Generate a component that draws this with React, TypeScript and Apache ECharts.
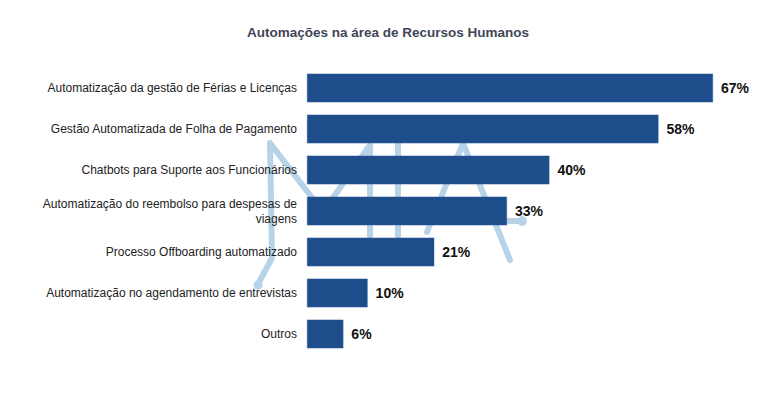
import React, { useEffect, useRef } from "react";
import * as echarts from "echarts";

const categories = [
  "Automatização da gestão de Férias e Licenças",
  "Gestão Automatizada de Folha de Pagamento",
  "Chatbots para Suporte aos Funcionários",
  "Automatização do reembolso para despesas de\nviagens",
  "Processo Offboarding automatizado",
  "Automatização no agendamento de entrevistas",
  "Outros",
];
const values = [67, 58, 40, 33, 21, 10, 6];
const titleText = "Automações na área de Recursos Humanos";

const wmColor = "#b6d3e8";
const wmStyle = { stroke: wmColor, lineWidth: 6, lineCap: "round", lineJoin: "round", fill: null };

export default function App() {
  const ref = useRef<HTMLDivElement>(null);
  useEffect(() => {
    if (!ref.current) return;
    const chart = echarts.init(ref.current, null, { renderer: "svg" });
    chart.setOption({
      animation: false,
      backgroundColor: "#ffffff",
      title: {
        text: titleText,
        left: "center",
        top: 20,
        textStyle: { fontFamily: "Liberation Sans, Arial, sans-serif", fontSize: 13.5, fontWeight: "bold", color: "#3f4656" },
      },
      graphic: [
        { type: "polyline", z: 0, shape: { points: [[258, 284], [272, 258], [270, 143], [323, 212], [370, 145], [370, 236]] }, style: wmStyle },
        { type: "line", z: 0, shape: { x1: 398, y1: 143, x2: 398, y2: 236 }, style: wmStyle },
        { type: "polyline", z: 0, shape: { points: [[427, 232], [463, 143], [510, 260]] }, style: wmStyle },
        { type: "line", z: 0, shape: { x1: 431, y1: 221, x2: 521, y2: 221 }, style: wmStyle },
        { type: "circle", z: 0, shape: { cx: 522, cy: 221, r: 5 }, style: { fill: wmColor } },
        { type: "circle", z: 0, shape: { cx: 258, cy: 285, r: 4.5 }, style: { fill: wmColor } },
      ],
      grid: { left: 307, right: 63, top: 67.5, height: 287, containLabel: false },
      xAxis: {
        type: "value",
        min: 0,
        max: 67,
        show: false,
        splitLine: { show: false },
      },
      yAxis: {
        type: "category",
        data: categories,
        inverse: true,
        axisLine: { show: false },
        axisTick: { show: false },
        axisLabel: {
          margin: 10,
          fontFamily: "Liberation Sans, Arial, sans-serif",
          fontSize: 12,
          color: "#222222",
          lineHeight: 15,
          align: "right",
        },
      },
      series: [
        {
          type: "bar",
          data: values,
          barCategoryGap: "30%",
          itemStyle: { color: "#1d4d8b", borderColor: "#3a64a0", borderWidth: 0.5 },
          label: {
            show: true,
            position: "right",
            distance: 8,
            formatter: "{c}%",
            fontFamily: "Liberation Sans, Arial, sans-serif",
            fontSize: 14,
            fontWeight: "bold",
            color: "#111111",
          },
        },
      ],
    });
    return () => chart.dispose();
  }, []);
  return <div ref={ref} style={{ position: "absolute", left: 0, top: 0, width: 776, height: 410 }} />;
}
